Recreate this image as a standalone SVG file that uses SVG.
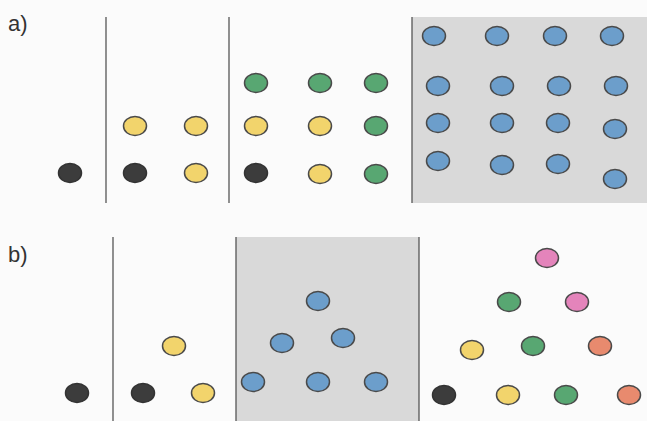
<svg xmlns="http://www.w3.org/2000/svg" width="647" height="421" viewBox="0 0 647 421">
<style>
.lbl{font-family:"Liberation Sans",Arial,sans-serif;font-size:22px;fill:#333}
.sep{stroke:#555;stroke-width:1.3}
.bg{fill:#d9d9d9}
ellipse{stroke:#4a4a4a;stroke-width:1.5}
.k{fill:#3c3c3c;stroke:#333}
.y{fill:#f2d46c}
.g{fill:#58a772}
.b{fill:#6c9ecb}
.p{fill:#e484bb}
.o{fill:#e88a6e}
</style>
<rect width="647" height="421" fill="#fbfbfb"/>
<g id="panel-a">
<text class="lbl" x="8" y="31">a)</text>
<rect class="bg" x="412" y="17" width="235" height="186"/>
<line class="sep" x1="106" y1="17" x2="106" y2="203"/>
<line class="sep" x1="229" y1="17" x2="229" y2="203"/>
<line class="sep" x1="412" y1="17" x2="412" y2="203"/>
<g id="a1"><ellipse class="k" cx="70" cy="173" rx="11.5" ry="9.5"/></g>
<g id="a2">
<ellipse class="k" cx="135" cy="173" rx="11.5" ry="9.5"/>
<ellipse class="y" cx="135" cy="126" rx="11.5" ry="9.5"/>
<ellipse class="y" cx="196" cy="126" rx="11.5" ry="9.5"/>
<ellipse class="y" cx="196" cy="173" rx="11.5" ry="9.5"/>
</g>
<g id="a3">
<ellipse class="g" cx="256" cy="83" rx="11.5" ry="9.5"/>
<ellipse class="y" cx="256" cy="126" rx="11.5" ry="9.5"/>
<ellipse class="k" cx="256" cy="173" rx="11.5" ry="9.5"/>
<ellipse class="g" cx="320" cy="83" rx="11.5" ry="9.5"/>
<ellipse class="y" cx="320" cy="126" rx="11.5" ry="9.5"/>
<ellipse class="y" cx="320" cy="174" rx="11.5" ry="9.5"/>
<ellipse class="g" cx="376" cy="83" rx="11.5" ry="9.5"/>
<ellipse class="g" cx="376" cy="126" rx="11.5" ry="9.5"/>
<ellipse class="g" cx="376" cy="174" rx="11.5" ry="9.5"/>
</g>
<g id="a4">
<ellipse class="b" cx="434" cy="36" rx="11.5" ry="9.5"/>
<ellipse class="b" cx="497" cy="36" rx="11.5" ry="9.5"/>
<ellipse class="b" cx="555" cy="36" rx="11.5" ry="9.5"/>
<ellipse class="b" cx="612" cy="36" rx="11.5" ry="9.5"/>
<ellipse class="b" cx="438" cy="86" rx="11.5" ry="9.5"/>
<ellipse class="b" cx="502" cy="86" rx="11.5" ry="9.5"/>
<ellipse class="b" cx="559" cy="86" rx="11.5" ry="9.5"/>
<ellipse class="b" cx="616" cy="86" rx="11.5" ry="9.5"/>
<ellipse class="b" cx="438" cy="123" rx="11.5" ry="9.5"/>
<ellipse class="b" cx="502" cy="123" rx="11.5" ry="9.5"/>
<ellipse class="b" cx="558" cy="123" rx="11.5" ry="9.5"/>
<ellipse class="b" cx="615" cy="129" rx="11.5" ry="9.5"/>
<ellipse class="b" cx="438" cy="161" rx="11.5" ry="9.5"/>
<ellipse class="b" cx="502" cy="165" rx="11.5" ry="9.5"/>
<ellipse class="b" cx="558" cy="164" rx="11.5" ry="9.5"/>
<ellipse class="b" cx="615" cy="179" rx="11.5" ry="9.5"/>
</g>
</g>
<g id="panel-b">
<text class="lbl" x="8" y="262">b)</text>
<rect class="bg" x="236" y="237" width="183" height="184"/>
<line class="sep" x1="113" y1="237" x2="113" y2="421"/>
<line class="sep" x1="236" y1="237" x2="236" y2="421"/>
<line class="sep" x1="419" y1="237" x2="419" y2="421"/>
<g id="b1"><ellipse class="k" cx="77" cy="393" rx="11.5" ry="9.5"/></g>
<g id="b2">
<ellipse class="k" cx="143" cy="393" rx="11.5" ry="9.5"/>
<ellipse class="y" cx="203" cy="393" rx="11.5" ry="9.5"/>
<ellipse class="y" cx="174" cy="346" rx="11.5" ry="9.5"/>
</g>
<g id="b3">
<ellipse class="b" cx="253" cy="382" rx="11.5" ry="9.5"/>
<ellipse class="b" cx="318" cy="382" rx="11.5" ry="9.5"/>
<ellipse class="b" cx="376" cy="382" rx="11.5" ry="9.5"/>
<ellipse class="b" cx="282" cy="343" rx="11.5" ry="9.5"/>
<ellipse class="b" cx="343" cy="338" rx="11.5" ry="9.5"/>
<ellipse class="b" cx="318" cy="301" rx="11.5" ry="9.5"/>
</g>
<g id="b4">
<ellipse class="p" cx="547" cy="258" rx="11.5" ry="9.5"/>
<ellipse class="g" cx="509" cy="302" rx="11.5" ry="9.5"/>
<ellipse class="p" cx="577" cy="302" rx="11.5" ry="9.5"/>
<ellipse class="y" cx="472" cy="350" rx="11.5" ry="9.5"/>
<ellipse class="g" cx="533" cy="346" rx="11.5" ry="9.5"/>
<ellipse class="o" cx="600" cy="346" rx="11.5" ry="9.5"/>
<ellipse class="k" cx="444" cy="395" rx="11.5" ry="9.5"/>
<ellipse class="y" cx="508" cy="395" rx="11.5" ry="9.5"/>
<ellipse class="g" cx="566" cy="395" rx="11.5" ry="9.5"/>
<ellipse class="o" cx="629" cy="395" rx="11.5" ry="9.5"/>
</g>
</g>
</svg>
